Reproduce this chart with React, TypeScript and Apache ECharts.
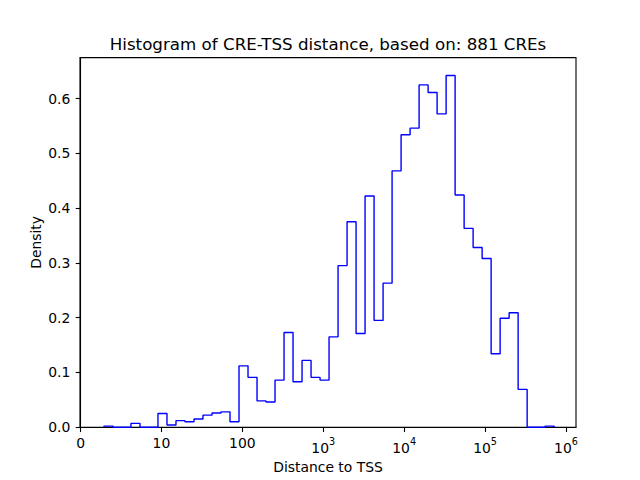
import React, { useEffect, useRef } from "react";
import * as echarts from "echarts";

// Histogram on a log-like axis: position u (0 -> "0", 1 -> "10", k -> 10^k)
const binStart = 0.289; // left edge of first bin (axis units)
const binWidth = 0.1113; // width of each bin (axis units)
const densities = [
  0.002, 0, 0, 0.007, 0, 0, 0.025, 0.004, 0.012, 0.01,
  0.015, 0.022, 0.026, 0.028, 0.01, 0.112, 0.091, 0.048, 0.046, 0.086,
  0.173, 0.083, 0.122, 0.091, 0.086, 0.165, 0.295, 0.375, 0.171, 0.422,
  0.195, 0.263, 0.468, 0.534, 0.546, 0.625, 0.611, 0.572, 0.642, 0.424,
  0.363, 0.328, 0.308, 0.134, 0.199, 0.209, 0.069, 0, 0, 0.002,
];
const xTicks = [0, 1, 2, 3, 4, 5, 6];
const yTicks = [0, 0.1, 0.2, 0.3, 0.4, 0.5, 0.6];
const xMin = -0.007;
const xMax = 6.124;
const yMax = 0.6748;

const titleText = "Histogram of CRE-TSS distance, based on: 881 CREs";
const xLabel = "Distance to TSS";
const yLabel = "Density";

const FONT = "DejaVu Sans";

export default function App() {
  const ref = useRef<HTMLDivElement>(null);
  useEffect(() => {
    if (!ref.current) return;
    const chart = echarts.init(ref.current, null, { renderer: "svg" });
    const pts: number[][] = [];
    pts.push([binStart, 0]);
    densities.forEach((h, i) => {
      pts.push([binStart + i * binWidth, h]);
      pts.push([binStart + (i + 1) * binWidth, h]);
    });
    pts.push([binStart + densities.length * binWidth, 0]);

    chart.setOption({
      animation: false,
      backgroundColor: "#ffffff",
      grid: {
        left: 80,
        right: 64,
        top: 57.6,
        bottom: 52.8,
        show: true,
        borderColor: "#000",
        borderWidth: 1.1,
        backgroundColor: "transparent",
      },
      xAxis: {
        type: "value",
        min: xMin,
        max: xMax,
        splitLine: { show: false },
        axisLine: { show: true, lineStyle: { color: "#000", width: 1.1 } },
        axisTick: {
          show: true,
          length: 4.86,
          lineStyle: { color: "#000", width: 1.1 },
          customValues: xTicks,
        },
        axisLabel: {
          customValues: xTicks,
          margin: 9.2,
          color: "#000",
          fontFamily: FONT,
          fontSize: 13.9,
          verticalAlign: "top",
          formatter: (v: number) => {
            const k = Math.round(v);
            if (k === 0) return "0";
            if (k === 1) return "10";
            if (k === 2) return "100";
            return "{b|10}{s|" + k + "}";
          },
          rich: {
            b: { fontFamily: FONT, fontSize: 13.9, color: "#000", padding: [5, 0, 0, 0] },
            s: { fontFamily: FONT, fontSize: 9.7, color: "#000", verticalAlign: "top", padding: [0, 0, 6, 0] },
          },
        },
      },
      yAxis: {
        type: "value",
        min: 0,
        max: yMax,
        splitLine: { show: false },
        axisLine: { show: true, lineStyle: { color: "#000", width: 1.1 } },
        axisTick: {
          show: true,
          length: 4.86,
          lineStyle: { color: "#000", width: 1.1 },
          customValues: yTicks,
        },
        axisLabel: {
          customValues: yTicks,
          margin: 9.7,
          color: "#000",
          fontFamily: FONT,
          fontSize: 13.9,
          formatter: (v: number) => v.toFixed(1),
        },
      },
      graphic: [
        {
          type: "text",
          x: 328,
          y: 44,
          style: {
            text: titleText,
            fontFamily: FONT,
            fontSize: 16.7,
            fill: "#000",
            textAlign: "center",
            textVerticalAlign: "middle",
          },
        },
        {
          type: "text",
          x: 328,
          y: 467,
          style: {
            text: xLabel,
            fontFamily: FONT,
            fontSize: 13.9,
            fill: "#000",
            textAlign: "center",
            textVerticalAlign: "middle",
          },
        },
        {
          type: "text",
          x: 36,
          y: 242.4,
          rotation: Math.PI / 2,
          style: {
            text: yLabel,
            fontFamily: FONT,
            fontSize: 13.9,
            fill: "#000",
            textAlign: "center",
            textVerticalAlign: "middle",
          },
        },
      ],
      series: [
        {
          type: "line",
          data: pts,
          showSymbol: false,
          symbol: "none",
          clip: false,
          lineStyle: { color: "#0000ff", width: 1.4 },
          itemStyle: { color: "#0000ff" },
          silent: true,
        },
      ],
    });
    return () => chart.dispose();
  }, []);
  return (
    <div
      ref={ref}
      style={{ position: "fixed", left: 0, top: 0, width: 640, height: 480 }}
    />
  );
}
